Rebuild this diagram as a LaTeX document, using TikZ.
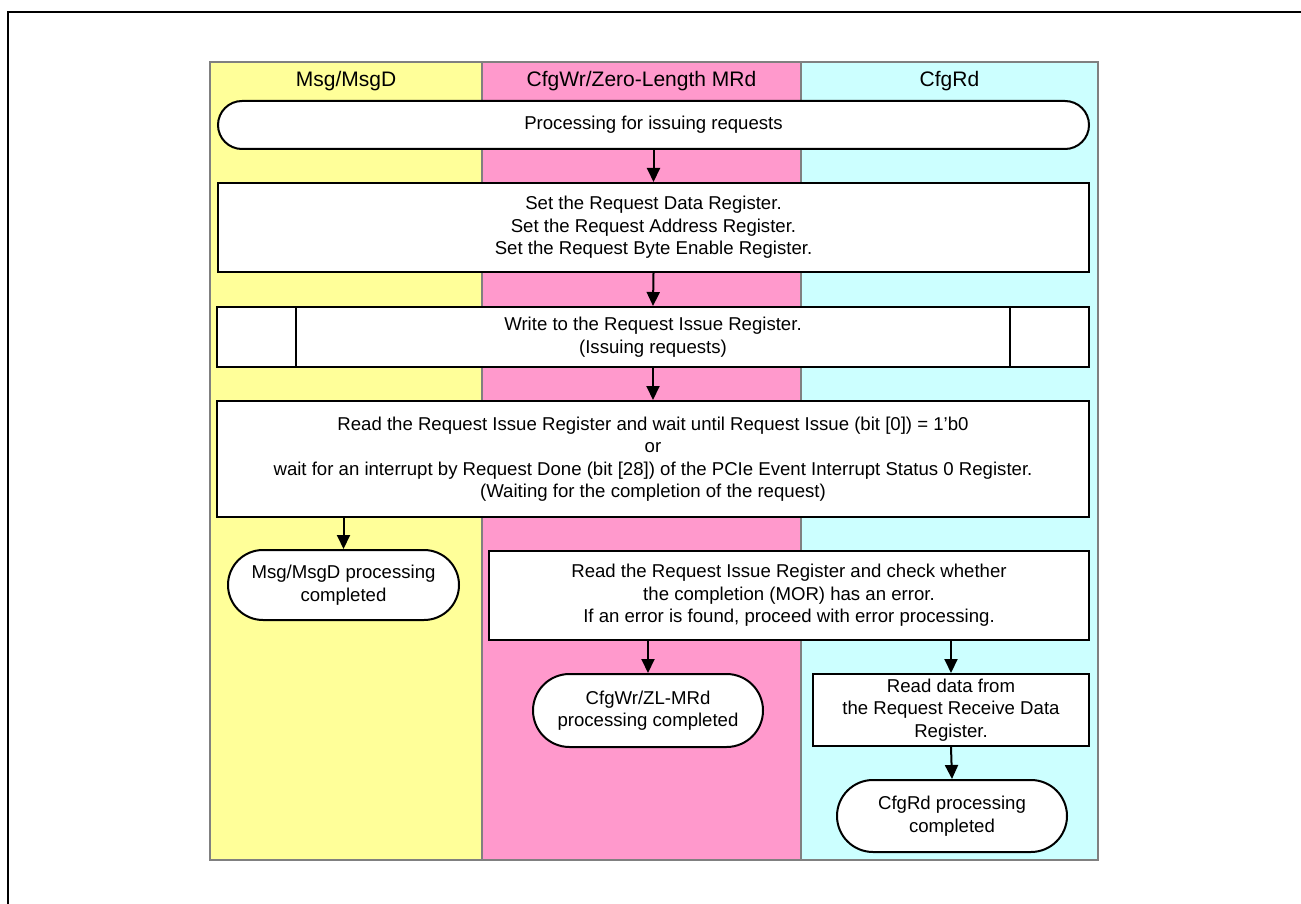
\documentclass[tikz,border=0pt]{standalone}
\usepackage{fontspec}
\setmainfont{Liberation Sans}
\usetikzlibrary{arrows.meta,shapes.misc}
\definecolor{laneyellow}{RGB}{255,255,153}
\definecolor{lanepink}{RGB}{255,153,204}
\definecolor{lanecyan}{RGB}{204,255,255}
\definecolor{lanegray}{RGB}{128,128,128}
\tikzset{
  body/.style={font=\fontsize{18.6}{22.5}\selectfont, align=center, inner sep=0pt},
  procbox/.style={body, draw=black, line width=2pt, fill=white, rectangle},
  termbox/.style={body, draw=black, line width=2pt, fill=white, rounded rectangle},
  header/.style={font=\fontsize{21}{25}\selectfont, inner sep=0pt},
  flow/.style={line width=2pt, -{Triangle[length=14pt,width=13pt]}},
  lane/.style={draw=lanegray, line width=2.2pt}
}
\begin{document}
\begin{tikzpicture}[x=1pt,y=-1pt]
\useasboundingbox (0,0) rectangle (1301,904);
% outer frame (top and left edges)
\draw[line width=2.8pt] (8,904) -- (8,12) -- (1301,12);
% lanes
\fill[laneyellow] (210,62) rectangle (482,860);
\fill[lanepink] (482,62) rectangle (801,860);
\fill[lanecyan] (801,62) rectangle (1098,860);
\draw[lane] (482,62) -- (482,860);
\draw[lane] (801,62) -- (801,860);
\draw[lane] (210,62) rectangle (1098,860);
\node[header] (h1) at (346,81) {Msg/MsgD};
\node[header] (h2) at (641.5,81) {CfgWr/Zero-Length MRd};
\node[header] (h3) at (949.5,81) {CfgRd};
% nodes
\node[termbox, minimum width=871pt, minimum height=48pt] (t1) at (653.5,125) {Processing for issuing requests};
\node[procbox, minimum width=871pt, minimum height=89pt] (b2) at (653.5,227.5)
  {Set the Request Data Register.\\Set the Request Address Register.\\Set the Request Byte Enable Register.};
\node[procbox, minimum width=872pt, minimum height=60pt] (b3) at (653,337)
  {Write to the Request Issue Register.\\(Issuing requests)};
\draw[line width=2pt] ([xshift=80pt]b3.north west) -- ([xshift=80pt]b3.south west);
\draw[line width=2pt] ([xshift=-80pt]b3.north east) -- ([xshift=-80pt]b3.south east);
\node[procbox, minimum width=872pt, minimum height=116pt] (b4) at (653,459)
  {Read the Request Issue Register and wait until Request Issue (bit [0]) = 1’b0\\or\\wait for an interrupt by Request Done (bit [28]) of the PCIe Event Interrupt Status 0 Register.\\(Waiting for the completion of the request)};
\node[termbox, minimum width=231pt, minimum height=70pt] (t2) at (343.5,585)
  {Msg/MsgD processing\\completed};
\node[procbox, minimum width=600pt, minimum height=89pt] (b5) at (789,595.5)
  {Read the Request Issue Register and check whether\\the completion (MOR) has an error.\\If an error is found, proceed with error processing.};
\node[termbox, minimum width=230pt, minimum height=73pt] (t3) at (648,710.5)
  {CfgWr/ZL-MRd\\processing completed};
\node[procbox, minimum width=276pt, minimum height=72pt] (b6) at (951,710)
  {Read data from\\the Request Receive Data\\Register.};
\node[termbox, minimum width=230pt, minimum height=72pt] (t4) at (952,816)
  {CfgRd processing\\completed};
% connectors
\draw[flow] (t1.south) -- (b2.north);
\draw[flow] (b2.south) -- (b3.north);
\draw[flow] (b3.south) -- (b4.north);
\draw[flow] (b4.south -| t2.north) -- (t2.north);
\draw[flow] (b5.south -| t3.north) -- (t3.north);
\draw[flow] (b5.south -| b6.north) -- (b6.north);
\draw[flow] (b6.south) -- (t4.north);
\end{tikzpicture}
\end{document}
